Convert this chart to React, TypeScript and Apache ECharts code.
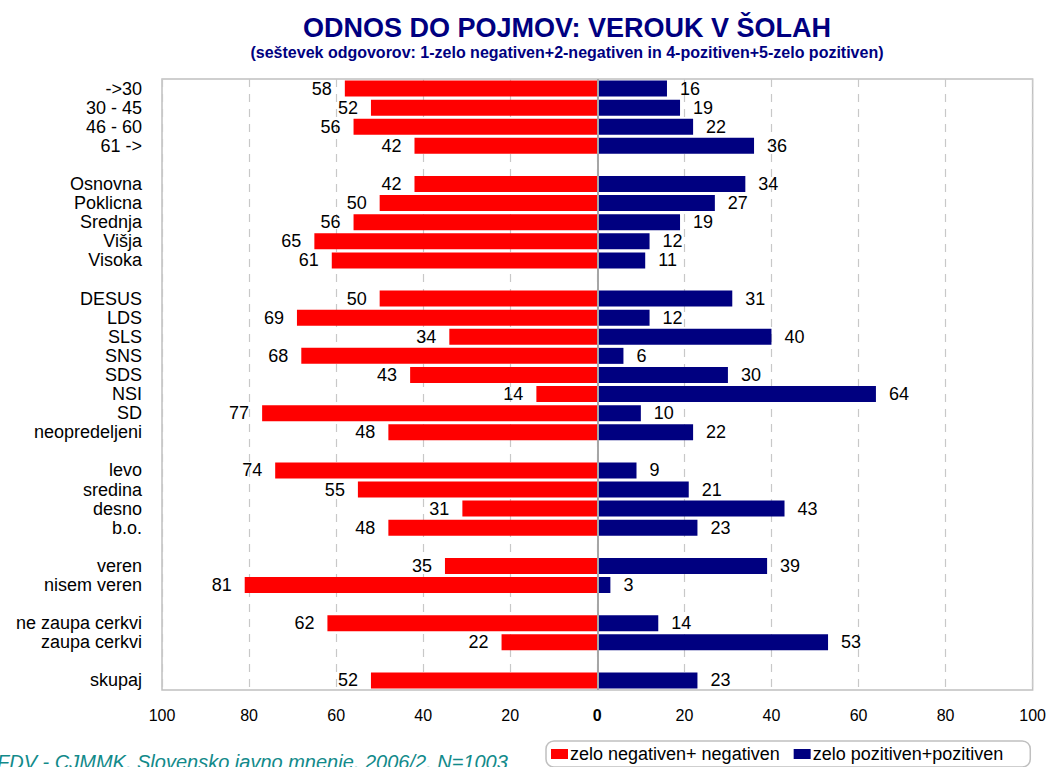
import React, { useEffect, useRef } from "react";
import * as echarts from "echarts";

const categories = [
  "->30", "30 - 45", "46 - 60", "61 ->", " ",
  "Osnovna", "Poklicna", "Srednja", "Višja", "Visoka", "  ",
  "DESUS", "LDS", "SLS", "SNS", "SDS", "NSI", "SD", "neopredeljeni", "   ",
  "levo", "sredina", "desno", "b.o.", "    ",
  "veren", "nisem veren", "     ",
  "ne zaupa cerkvi", "zaupa cerkvi", "      ",
  "skupaj",
];

const negativeValues: (number | null)[] = [
  58, 52, 56, 42, null,
  42, 50, 56, 65, 61, null,
  50, 69, 34, 68, 43, 14, 77, 48, null,
  74, 55, 31, 48, null,
  35, 81, null,
  62, 22, null,
  52,
];

const positiveValues: (number | null)[] = [
  16, 19, 22, 36, null,
  34, 27, 19, 12, 11, null,
  31, 12, 40, 6, 30, 64, 10, 22, null,
  9, 21, 43, 23, null,
  39, 3, null,
  14, 53, null,
  23,
];

const xTicks = [-100, 100, 20];

const TITLE = "ODNOS DO POJMOV: VEROUK V ŠOLAH";
const SUBTITLE =
  "(seštevek odgovorov: 1-zelo negativen+2-negativen in 4-pozitiven+5-zelo pozitiven)";
const SOURCE = "FDV - CJMMK, Slovensko javno mnenje, 2006/2, N=1003";
const NEG_NAME = "zelo negativen+ negativen";
const POS_NAME = "zelo pozitiven+pozitiven";

const FONT = "Arial, 'Liberation Sans', sans-serif";

export default function App() {
  const ref = useRef<HTMLDivElement>(null);
  useEffect(() => {
    if (!ref.current) return;
    const chart = echarts.init(ref.current, null, { renderer: "svg" });
    const labelStyle = { fontSize: 18, fontFamily: FONT, color: "#000" };
    chart.setOption({
      animation: false,
      backgroundColor: "#fff",
      textStyle: { fontFamily: FONT },
      grid: {
        left: 162,
        top: 79,
        width: 871,
        height: 611,
        show: true,
        borderColor: "#c0c0c0",
        borderWidth: 1.5,
        containLabel: false,
      },
      legend: {
        left: 546,
        top: 741,
        padding: [4, 27, 4, 5],
        itemGap: 14,
        itemWidth: 17,
        itemHeight: 10,
        icon: "rect",
        borderColor: "#c0c0c0",
        borderWidth: 1.5,
        borderRadius: 8,
        textStyle: { fontSize: 18, fontFamily: FONT, color: "#000", padding: [0, 0, 0, -3] },
        data: [NEG_NAME, POS_NAME],
      },
      xAxis: {
        type: "value",
        min: xTicks[0],
        max: xTicks[1],
        interval: xTicks[2],
        axisLine: { show: false },
        axisTick: { show: false },
        splitLine: {
          show: true,
          lineStyle: { color: "#c8c8c8", type: [8, 7], width: 1.2 },
        },
        axisLabel: {
          margin: 17,
          fontSize: 16,
          fontFamily: FONT,
          color: "#000",
          formatter: (v: number) => (v === 0 ? "{b|0}" : String(Math.abs(v))),
          rich: { b: { fontWeight: "bold", fontSize: 16, fontFamily: FONT, color: "#000" } },
        },
      },
      yAxis: {
        type: "category",
        inverse: true,
        data: categories,
        axisLine: { show: false, onZero: false },
        axisTick: { show: false },
        splitLine: { show: false },
        axisLabel: { interval: 0, margin: 20, fontSize: 18, fontFamily: FONT, color: "#000" },
      },
      series: [
        {
          name: NEG_NAME,
          type: "bar",
          data: negativeValues.map((v) => (v == null ? null : -v)),
          barWidth: 16,
          barGap: "-100%",
          itemStyle: { color: "#ff0000" },
          label: {
            show: true,
            position: "left",
            distance: 13,
            ...labelStyle,
            formatter: (p: any) => String(Math.abs(p.value)),
          },
          markLine: {
            silent: true,
            symbol: "none",
            label: { show: false },
            lineStyle: { color: "#a6a6a6", type: "solid", width: 2 },
            data: [{ xAxis: 0 }],
            z: 10,
          },
        },
        {
          name: POS_NAME,
          type: "bar",
          data: positiveValues,
          barWidth: 16,
          barGap: "-100%",
          itemStyle: { color: "#000080" },
          label: {
            show: true,
            position: "right",
            distance: 13,
            ...labelStyle,
          },
        },
      ],
      graphic: [
        {
          type: "text",
          x: 567,
          y: 28,
          style: {
            text: TITLE,
            fill: "#000080",
            font: `bold 27px ${FONT}`,
            textAlign: "center",
            textVerticalAlign: "middle",
          },
        },
        {
          type: "text",
          x: 567,
          y: 52,
          style: {
            text: SUBTITLE,
            fill: "#000080",
            font: `bold 16px ${FONT}`,
            textAlign: "center",
            textVerticalAlign: "middle",
          },
        },
        {
          type: "text",
          x: -3,
          y: 762,
          style: {
            text: SOURCE,
            fill: "#128a8a",
            font: `italic 20px ${FONT}`,
            textAlign: "left",
            textVerticalAlign: "middle",
          },
        },
      ],
    });
    return () => chart.dispose();
  }, []);
  return (
    <div
      ref={ref}
      style={{ position: "fixed", left: 0, top: 0, width: 1049, height: 767 }}
    />
  );
}
